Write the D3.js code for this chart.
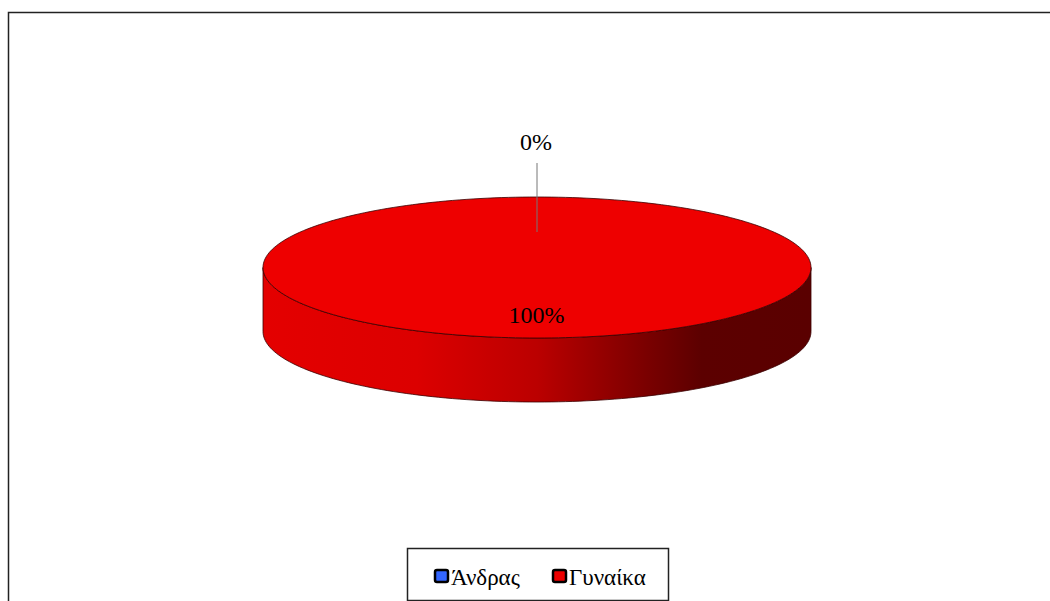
<!DOCTYPE html>
<html><head><meta charset="utf-8">
<script src="https://cdn.jsdelivr.net/npm/d3@7"></script>
<style>body{margin:0;background:#fff}svg{display:block}</style>
</head><body>
<svg id="c" width="1050" height="601"></svg>
<script>
const categories = ["Άνδρας", "Γυναίκα"];
const values = [0, 100];
const labels = ["0%", "100%"];
const topColors = ["#3366ff", "#ee0000"];

const svg = d3.select("#c");
const font = "'Liberation Serif','Times New Roman',serif";

// frame
svg.append("rect").attr("x", 8.5).attr("y", 12.5).attr("width", 1100).attr("height", 700)
  .attr("fill", "#fff").attr("stroke", "#222").attr("stroke-width", 1.5);

const cx = 537, cy = 267.5, rx = 274, ry = 70.5, depth = 64;
const P = a => [cx + rx * Math.sin(a), cy - ry * Math.cos(a)];

const defs = svg.append("defs");
const g = defs.append("linearGradient").attr("id", "side").attr("gradientUnits", "userSpaceOnUse")
  .attr("x1", cx - rx).attr("x2", cx + rx).attr("y1", 0).attr("y2", 0);
[[0, "#e40000"], [0.28, "#dc0000"], [0.5, "#bb0000"], [0.7, "#7a0000"], [0.8, "#5c0000"], [1, "#5a0000"]]
  .forEach(([o, c]) => g.append("stop").attr("offset", o).attr("stop-color", c));
const g2 = defs.append("linearGradient").attr("id", "side0").attr("gradientUnits", "userSpaceOnUse")
  .attr("x1", cx - rx).attr("x2", cx + rx).attr("y1", 0).attr("y2", 0);
[[0, "#3366ff"], [1, "#1a337f"]].forEach(([o, c]) => g2.append("stop").attr("offset", o).attr("stop-color", c));

const pie = d3.pie().sort(null).startAngle(0).endAngle(2 * Math.PI)(values);

function arcPts(a0, a1, n) {
  const pts = [];
  for (let i = 0; i <= n; i++) pts.push(P(a0 + (a1 - a0) * i / n));
  return pts;
}

// side walls
pie.forEach((d, i) => {
  const a0 = Math.max(d.startAngle, Math.PI / 2), a1 = Math.min(d.endAngle, 3 * Math.PI / 2);
  if (a1 <= a0) return;
  const top = arcPts(a0, a1, 120);
  const bot = top.map(p => [p[0], p[1] + depth]).reverse();
  svg.append("path").attr("d", "M" + top.concat(bot).map(p => p.join(",")).join("L") + "Z")
    .attr("fill", i === 1 ? "url(#side)" : "url(#side0)")
    .attr("stroke", "#3a0000").attr("stroke-width", 0.8);
});

// top faces
pie.forEach((d, i) => {
  if (d.endAngle - d.startAngle <= 0) return;
  const pts = arcPts(d.startAngle, d.endAngle, 240);
  const full = d.endAngle - d.startAngle >= 2 * Math.PI - 1e-6;
  const path = full ? "M" + pts.map(p => p.join(",")).join("L") + "Z"
    : "M" + cx + "," + cy + "L" + pts.map(p => p.join(",")).join("L") + "Z";
  svg.append("path").attr("d", path).attr("fill", topColors[i])
    .attr("stroke", "#3a0000").attr("stroke-width", 0.8);
});

// labels
pie.forEach((d, i) => {
  const mid = (d.startAngle + d.endAngle) / 2;
  if (values[i] === 0) {
    const p = P(mid);
    svg.append("line").attr("x1", p[0]).attr("x2", p[0]).attr("y1", 163).attr("y2", p[1] + 35)
      .attr("stroke", "#777").attr("stroke-width", 1);
    svg.append("text").attr("x", 536).attr("y", 150).attr("text-anchor", "middle")
      .attr("font-family", font).attr("font-size", 24).attr("fill", "#000").text(labels[i]);
  } else {
    svg.append("text").attr("x", 536.5).attr("y", 323).attr("text-anchor", "middle")
      .attr("font-family", font).attr("font-size", 24).attr("fill", "#000").text(labels[i]);
  }
});

// legend
svg.append("rect").attr("x", 407.5).attr("y", 548.5).attr("width", 261).attr("height", 52)
  .attr("fill", "#fff").attr("stroke", "#222").attr("stroke-width", 1.5);
const lx = [435, 553];
categories.forEach((c, i) => {
  svg.append("rect").attr("x", lx[i]).attr("y", 570).attr("width", 13).attr("height", 12)
    .attr("rx", 2).attr("fill", topColors[i]).attr("stroke", "#000").attr("stroke-width", 2.5);
  svg.append("text").attr("x", lx[i] + 16).attr("y", 585).attr("font-family", font)
    .attr("font-size", 23).attr("fill", "#000").text(c);
});
</script>
</body></html>
